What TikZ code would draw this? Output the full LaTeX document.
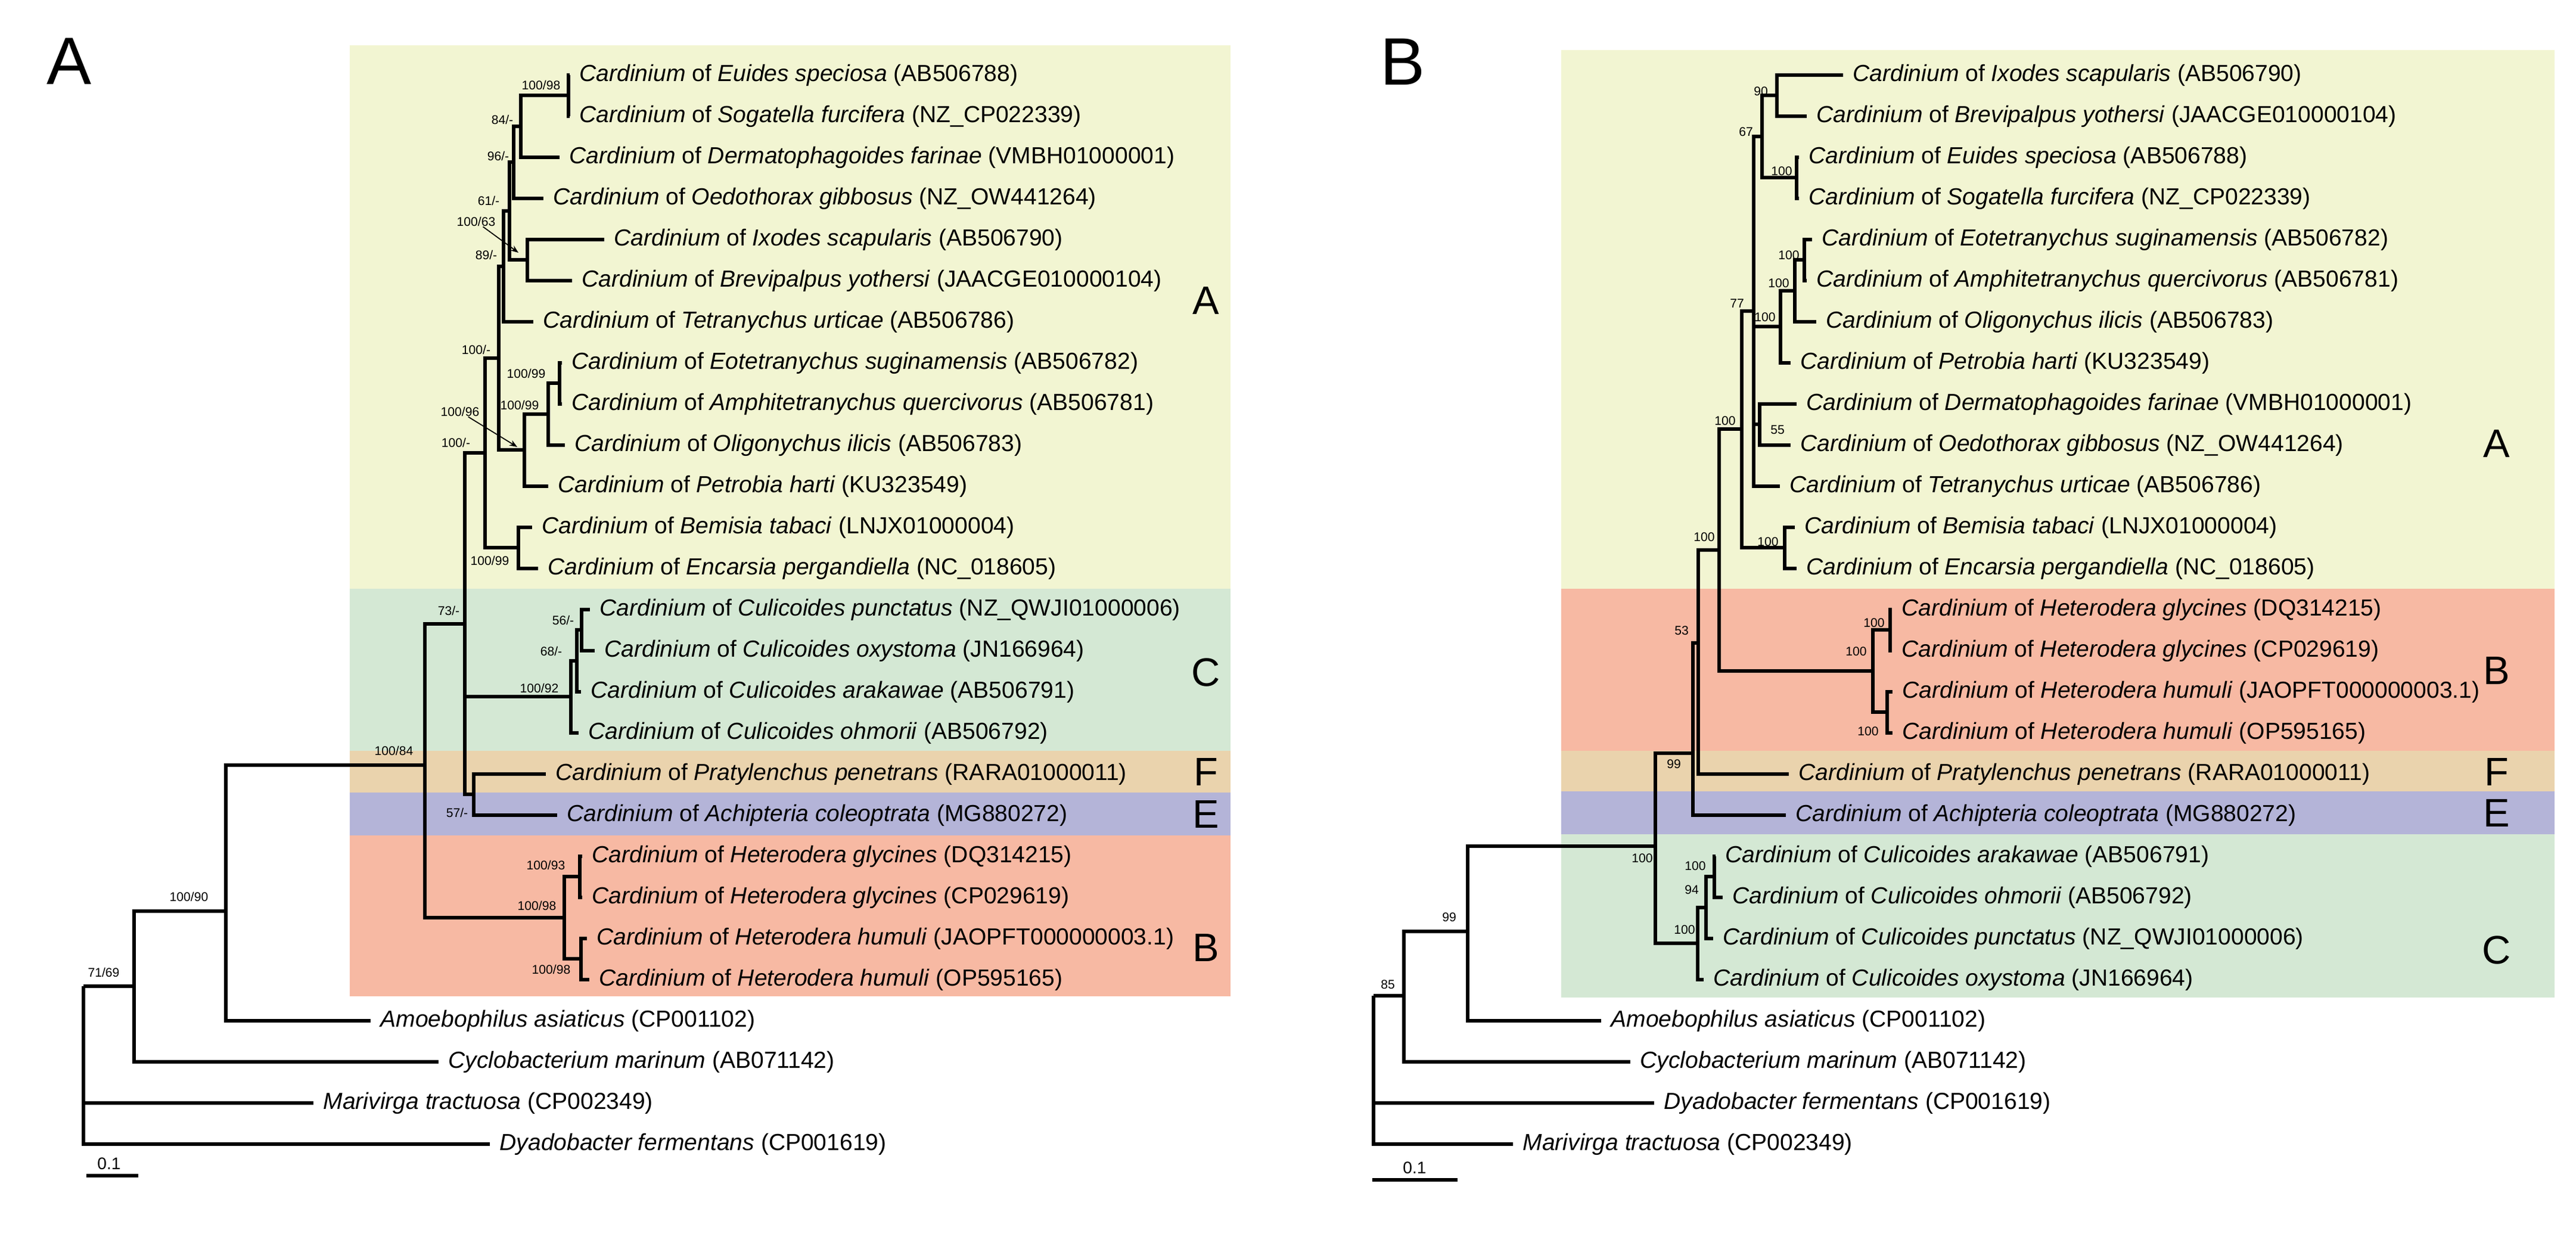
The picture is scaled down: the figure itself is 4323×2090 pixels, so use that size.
\documentclass[tikz,border=0pt]{standalone}
\usepackage{fontspec}
\setmainfont{Liberation Sans}
\usetikzlibrary{arrows.meta}

\definecolor{cyel}{RGB}{242,245,210}
\definecolor{cgrn}{RGB}{212,232,212}
\definecolor{ctan}{RGB}{234,211,173}
\definecolor{cpur}{RGB}{180,180,216}
\definecolor{csal}{RGB}{247,185,163}

\newcommand{\cardof}[2]{\textit{Cardinium} of \textit{#1} (#2)}

\tikzset{
  br/.style={line width=1.5pt},
  leaf/.style={anchor=west, inner xsep=0.16cm, inner ysep=0pt,
    font=\fontsize{11.1}{13}\selectfont},
  bsup/.style={inner sep=0pt, font=\fontsize{6}{7}\selectfont},
  sarrow/.style={line width=0.5pt, -{Stealth[length=1.3mm,width=1mm]}},
  clade/.style={inner sep=0pt, font=\fontsize{19}{22}\selectfont},
  panel/.style={inner sep=0pt, font=\fontsize{32}{36}\selectfont},
  scalelbl/.style={inner sep=0pt, font=\fontsize{8}{9}\selectfont},
}

\begin{document}
\begin{tikzpicture}[x=0.01cm, y=-0.01cm]
  \useasboundingbox (0,0) rectangle (4323,2090);

  % panel A: clade boxes
  \fill[cyel] (587,76) rectangle (2065,988);
  \fill[cgrn] (587,988) rectangle (2065,1260);
  \fill[ctan] (587,1260) rectangle (2065,1330);
  \fill[cpur] (587,1330) rectangle (2065,1402);
  \fill[csal] (587,1402) rectangle (2065,1672);

  \node[panel] (pA) at (116,103) {A};
  \node[clade] (kAA) at (2024,505) {A};
  \node[clade] (kAC) at (2024,1128) {C};
  \node[clade] (kAF) at (2024,1295) {F};
  \node[clade] (kAE) at (2024,1366) {E};
  \node[clade] (kAB) at (2024,1590) {B};

  % panel A: leaves
  \node[leaf] (lA1) at (956,126) {\cardof{Euides speciosa}{AB506788}};
  \node[leaf] (lA2) at (956,195) {\cardof{Sogatella furcifera}{NZ\_CP022339}};
  \node[leaf] (lA3) at (939,264) {\cardof{Dermatophagoides farinae}{VMBH01000001}};
  \node[leaf] (lA4) at (912,333) {\cardof{Oedothorax gibbosus}{NZ\_OW441264}};
  \node[leaf] (lA5) at (1014,402) {\cardof{Ixodes scapularis}{AB506790}};
  \node[leaf] (lA6) at (960,471) {\cardof{Brevipalpus yothersi}{JAACGE010000104}};
  \node[leaf] (lA7) at (895,540) {\cardof{Tetranychus urticae}{AB506786}};
  \node[leaf] (lA8) at (943,609) {\cardof{Eotetranychus suginamensis}{AB506782}};
  \node[leaf] (lA9) at (943,678) {\cardof{Amphitetranychus quercivorus}{AB506781}};
  \node[leaf] (lA10) at (948,747) {\cardof{Oligonychus ilicis}{AB506783}};
  \node[leaf] (lA11) at (920,816) {\cardof{Petrobia harti}{KU323549}};
  \node[leaf] (lA12) at (893,885) {\cardof{Bemisia tabaci}{LNJX01000004}};
  \node[leaf] (lA13) at (903,954) {\cardof{Encarsia pergandiella}{NC\_018605}};
  \node[leaf] (lA14) at (990,1023) {\cardof{Culicoides punctatus}{NZ\_QWJI01000006}};
  \node[leaf] (lA15) at (998,1092) {\cardof{Culicoides oxystoma}{JN166964}};
  \node[leaf] (lA16) at (975,1161) {\cardof{Culicoides arakawae}{AB506791}};
  \node[leaf] (lA17) at (971,1230) {\cardof{Culicoides ohmorii}{AB506792}};
  \node[leaf] (lA18) at (916,1299) {\cardof{Pratylenchus penetrans}{RARA01000011}};
  \node[leaf] (lA19) at (935,1368) {\cardof{Achipteria coleoptrata}{MG880272}};
  \node[leaf] (lA20) at (977,1437) {\cardof{Heterodera glycines}{DQ314215}};
  \node[leaf] (lA21) at (977,1506) {\cardof{Heterodera glycines}{CP029619}};
  \node[leaf] (lA22) at (985,1575) {\cardof{Heterodera humuli}{JAOPFT000000003.1}};
  \node[leaf] (lA23) at (989,1644) {\cardof{Heterodera humuli}{OP595165}};
  \node[leaf] (lA24) at (622,1713) {\textit{Amoebophilus asiaticus} (CP001102)};
  \node[leaf] (lA25) at (736,1782) {\textit{Cyclobacterium marinum} (AB071142)};
  \node[leaf] (lA26) at (526,1851) {\textit{Marivirga tractuosa} (CP002349)};
  \node[leaf] (lA27) at (822,1920) {\textit{Dyadobacter fermentans} (CP001619)};

  % panel A: inner nodes
  \coordinate (aEu) at (954,160);
  \coordinate (a84) at (874,212);
  \coordinate (a96) at (862,272);
  \coordinate (aIx) at (885,436);
  \coordinate (a61) at (855,354);
  \coordinate (a89) at (845,447);
  \coordinate (aEo) at (939,643);
  \coordinate (aOl) at (920,695);
  \coordinate (aPe) at (880,755);
  \coordinate (aUp) at (837,601);
  \coordinate (aBe) at (870,919);
  \coordinate (aCA) at (814,760);
  \coordinate (a56) at (976,1057);
  \coordinate (a68) at (968,1109);
  \coordinate (aCC) at (958,1169);
  \coordinate (a57) at (795,1333);
  \coordinate (a73) at (780,1047);
  \coordinate (aGl) at (973,1471);
  \coordinate (aHu) at (975,1609);
  \coordinate (aCB) at (947,1540);
  \coordinate (a84b) at (713,1284);
  \coordinate (a90) at (379,1529);
  \coordinate (a71) at (225,1655);
  \coordinate (aR) at (140,1655);

  % panel A: branches
  \draw[br] (aEu) |- (lA1.west) (aEu) |- (lA2.west);
  \draw[br] (a84) |- (aEu) (a84) |- (lA3.west);
  \draw[br] (a96) |- (a84) (a96) |- (lA4.west);
  \draw[br] (aIx) |- (lA5.west) (aIx) |- (lA6.west);
  \draw[br] (a61) |- (a96) (a61) |- (aIx);
  \draw[br] (a89) |- (a61) (a89) |- (lA7.west);
  \draw[br] (aEo) |- (lA8.west) (aEo) |- (lA9.west);
  \draw[br] (aOl) |- (aEo) (aOl) |- (lA10.west);
  \draw[br] (aPe) |- (aOl) (aPe) |- (lA11.west);
  \draw[br] (aUp) |- (a89) (aUp) |- (aPe);
  \draw[br] (aBe) |- (lA12.west) (aBe) |- (lA13.west);
  \draw[br] (aCA) |- (aUp) (aCA) |- (aBe);
  \draw[br] (a56) |- (lA14.west) (a56) |- (lA15.west);
  \draw[br] (a68) |- (a56) (a68) |- (lA16.west);
  \draw[br] (aCC) |- (a68) (aCC) |- (lA17.west);
  \draw[br] (a57) |- (lA18.west) (a57) |- (lA19.west);
  \draw[br] (a73) |- (aCA) (a73) |- (aCC) (a73) |- (a57);
  \draw[br] (aGl) |- (lA20.west) (aGl) |- (lA21.west);
  \draw[br] (aHu) |- (lA22.west) (aHu) |- (lA23.west);
  \draw[br] (aCB) |- (aGl) (aCB) |- (aHu);
  \draw[br] (a84b) |- (a73) (a84b) |- (aCB);
  \draw[br] (a90) |- (a84b) (a90) |- (lA24.west);
  \draw[br] (a71) |- (a90) (a71) |- (lA25.west);
  \draw[br] (aR) |- (a71) (aR) |- (lA26.west) (aR) |- (lA27.west);

  % panel A: support values
  \node[bsup] (sA1) at (908,143) {100/98};
  \node[bsup] (sA2) at (843,201) {84/-};
  \node[bsup] (sA3) at (836,262) {96/-};
  \node[bsup] (sA4) at (820,337) {61/-};
  \node[bsup] (sA5) at (799,372) {100/63};
  \node[bsup] (sA6) at (816,428) {89/-};
  \node[bsup] (sA7) at (799,587) {100/-};
  \node[bsup] (sA8) at (883,627) {100/99};
  \node[bsup] (sA9) at (872,680) {100/99};
  \node[bsup] (sA10) at (772,691) {100/96};
  \node[bsup] (sA11) at (765,743) {100/-};
  \node[bsup] (sA12) at (822,941) {100/99};
  \node[bsup] (sA13) at (945,1041) {56/-};
  \node[bsup] (sA14) at (925,1093) {68/-};
  \node[bsup] (sA15) at (905,1155) {100/92};
  \node[bsup] (sA16) at (753,1025) {73/-};
  \node[bsup] (sA17) at (767,1364) {57/-};
  \node[bsup] (sA18) at (661,1260) {100/84};
  \node[bsup] (sA19) at (916,1452) {100/93};
  \node[bsup] (sA20) at (901,1520) {100/98};
  \node[bsup] (sA21) at (925,1627) {100/98};
  \node[bsup] (sA22) at (317,1505) {100/90};
  \node[bsup] (sA23) at (174,1632) {71/69};
  \coordinate (pA5) at (870,424);
  \coordinate (pA10) at (868,750);
  \draw[sarrow] (sA5) -- (pA5);
  \draw[sarrow] (sA10) -- (pA10);

  % panel A: scale
  \coordinate (scA1) at (145,1973);
  \coordinate (scA2) at (232,1973);
  \draw[br] (scA1) -- (scA2);
  \node[scalelbl] (scA) at (183,1953) {0.1};

  % panel B: clade boxes
  \fill[cyel] (2620,84) rectangle (4287,988);
  \fill[csal] (2620,988) rectangle (4287,1260);
  \fill[ctan] (2620,1260) rectangle (4287,1328);
  \fill[cpur] (2620,1328) rectangle (4287,1400);
  \fill[cgrn] (2620,1400) rectangle (4287,1674);

  \node[panel] (pB) at (2354,104) {B};
  \node[clade] (kBA) at (4190,744) {A};
  \node[clade] (kBB) at (4190,1125) {B};
  \node[clade] (kBF) at (4190,1295) {F};
  \node[clade] (kBE) at (4190,1364) {E};
  \node[clade] (kBC) at (4190,1594) {C};

  % panel B: leaves
  \node[leaf] (lB1) at (3093,126) {\cardof{Ixodes scapularis}{AB506790}};
  \node[leaf] (lB2) at (3032,195) {\cardof{Brevipalpus yothersi}{JAACGE010000104}};
  \node[leaf] (lB3) at (3019,264) {\cardof{Euides speciosa}{AB506788}};
  \node[leaf] (lB4) at (3019,333) {\cardof{Sogatella furcifera}{NZ\_CP022339}};
  \node[leaf] (lB5) at (3041,402) {\cardof{Eotetranychus suginamensis}{AB506782}};
  \node[leaf] (lB6) at (3032,471) {\cardof{Amphitetranychus quercivorus}{AB506781}};
  \node[leaf] (lB7) at (3048,540) {\cardof{Oligonychus ilicis}{AB506783}};
  \node[leaf] (lB8) at (3005,609) {\cardof{Petrobia harti}{KU323549}};
  \node[leaf] (lB9) at (3015,678) {\cardof{Dermatophagoides farinae}{VMBH01000001}};
  \node[leaf] (lB10) at (3005,747) {\cardof{Oedothorax gibbosus}{NZ\_OW441264}};
  \node[leaf] (lB11) at (2987,816) {\cardof{Tetranychus urticae}{AB506786}};
  \node[leaf] (lB12) at (3012,885) {\cardof{Bemisia tabaci}{LNJX01000004}};
  \node[leaf] (lB13) at (3015,954) {\cardof{Encarsia pergandiella}{NC\_018605}};
  \node[leaf] (lB14) at (3175,1023) {\cardof{Heterodera glycines}{DQ314215}};
  \node[leaf] (lB15) at (3175,1092) {\cardof{Heterodera glycines}{CP029619}};
  \node[leaf] (lB16) at (3176,1161) {\cardof{Heterodera humuli}{JAOPFT000000003.1}};
  \node[leaf] (lB17) at (3176,1230) {\cardof{Heterodera humuli}{OP595165}};
  \node[leaf] (lB18) at (3002,1299) {\cardof{Pratylenchus penetrans}{RARA01000011}};
  \node[leaf] (lB19) at (2997,1368) {\cardof{Achipteria coleoptrata}{MG880272}};
  \node[leaf] (lB20) at (2879,1437) {\cardof{Culicoides arakawae}{AB506791}};
  \node[leaf] (lB21) at (2891,1506) {\cardof{Culicoides ohmorii}{AB506792}};
  \node[leaf] (lB22) at (2875,1575) {\cardof{Culicoides punctatus}{NZ\_QWJI01000006}};
  \node[leaf] (lB23) at (2859,1644) {\cardof{Culicoides oxystoma}{JN166964}};
  \node[leaf] (lB24) at (2687,1713) {\textit{Amoebophilus asiaticus} (CP001102)};
  \node[leaf] (lB25) at (2736,1782) {\textit{Cyclobacterium marinum} (AB071142)};
  \node[leaf] (lB26) at (2776,1851) {\textit{Dyadobacter fermentans} (CP001619)};
  \node[leaf] (lB27) at (2539,1920) {\textit{Marivirga tractuosa} (CP002349)};

  % panel B: inner nodes
  \coordinate (b90) at (2982,160);
  \coordinate (bEu) at (3015,298);
  \coordinate (b67) at (2957,229);
  \coordinate (bEo) at (3028,436);
  \coordinate (bOl) at (3012,488);
  \coordinate (bPe) at (2988,548);
  \coordinate (b55) at (2953,712);
  \coordinate (b77) at (2943,522);
  \coordinate (bBe) at (2995,919);
  \coordinate (bA1) at (2923,720);
  \coordinate (bGl) at (3172,1057);
  \coordinate (bHu) at (3167,1195);
  \coordinate (bHe) at (3143,1126);
  \coordinate (bA2) at (2885,923);
  \coordinate (b53) at (2850,1079);
  \coordinate (b99) at (2841,1264);
  \coordinate (bCu) at (2877,1471);
  \coordinate (b94) at (2863,1523);
  \coordinate (bCC) at (2849,1583);
  \coordinate (bIn) at (2778,1420);
  \coordinate (b99o) at (2463,1563);
  \coordinate (b85) at (2356,1671);
  \coordinate (bR) at (2305,1671);

  % panel B: branches
  \draw[br] (b90) |- (lB1.west) (b90) |- (lB2.west);
  \draw[br] (bEu) |- (lB3.west) (bEu) |- (lB4.west);
  \draw[br] (b67) |- (b90) (b67) |- (bEu);
  \draw[br] (bEo) |- (lB5.west) (bEo) |- (lB6.west);
  \draw[br] (bOl) |- (bEo) (bOl) |- (lB7.west);
  \draw[br] (bPe) |- (bOl) (bPe) |- (lB8.west);
  \draw[br] (b55) |- (lB9.west) (b55) |- (lB10.west);
  \draw[br] (b77) |- (b67) (b77) |- (bPe) (b77) |- (b55) (b77) |- (lB11.west);
  \draw[br] (bBe) |- (lB12.west) (bBe) |- (lB13.west);
  \draw[br] (bA1) |- (b77) (bA1) |- (bBe);
  \draw[br] (bGl) |- (lB14.west) (bGl) |- (lB15.west);
  \draw[br] (bHu) |- (lB16.west) (bHu) |- (lB17.west);
  \draw[br] (bHe) |- (bGl) (bHe) |- (bHu);
  \draw[br] (bA2) |- (bA1) (bA2) |- (bHe);
  \draw[br] (b53) |- (bA2) (b53) |- (lB18.west);
  \draw[br] (b99) |- (b53) (b99) |- (lB19.west);
  \draw[br] (bCu) |- (lB20.west) (bCu) |- (lB21.west);
  \draw[br] (b94) |- (bCu) (b94) |- (lB22.west);
  \draw[br] (bCC) |- (b94) (bCC) |- (lB23.west);
  \draw[br] (bIn) |- (b99) (bIn) |- (bCC);
  \draw[br] (b99o) |- (bIn) (b99o) |- (lB24.west);
  \draw[br] (b85) |- (b99o) (b85) |- (lB25.west);
  \draw[br] (bR) |- (b85) (bR) |- (lB26.west) (bR) |- (lB27.west);

  % panel B: support values
  \node[bsup] (sB1) at (2955,153) {90};
  \node[bsup] (sB2) at (2930,221) {67};
  \node[bsup] (sB3) at (2990,287) {100};
  \node[bsup] (sB4) at (3002,428) {100};
  \node[bsup] (sB5) at (2985,475) {100};
  \node[bsup] (sB6) at (2962,532) {100};
  \node[bsup] (sB7) at (2915,509) {77};
  \node[bsup] (sB8) at (2983,721) {55};
  \node[bsup] (sB9) at (2895,706) {100};
  \node[bsup] (sB10) at (2967,909) {100};
  \node[bsup] (sB11) at (2860,901) {100};
  \node[bsup] (sB12) at (3145,1045) {100};
  \node[bsup] (sB13) at (3115,1093) {100};
  \node[bsup] (sB14) at (3135,1227) {100};
  \node[bsup] (sB15) at (2822,1058) {53};
  \node[bsup] (sB16) at (2809,1282) {99};
  \node[bsup] (sB17) at (2845,1453) {100};
  \node[bsup] (sB18) at (2839,1493) {94};
  \node[bsup] (sB19) at (2827,1560) {100};
  \node[bsup] (sB20) at (2756,1440) {100};
  \node[bsup] (sB21) at (2432,1539) {99};
  \node[bsup] (sB22) at (2329,1652) {85};

  % panel B: scale
  \coordinate (scB1) at (2303,1980);
  \coordinate (scB2) at (2446,1980);
  \draw[br] (scB1) -- (scB2);
  \node[scalelbl] (scB) at (2374,1960) {0.1};
\end{tikzpicture}
\end{document}
